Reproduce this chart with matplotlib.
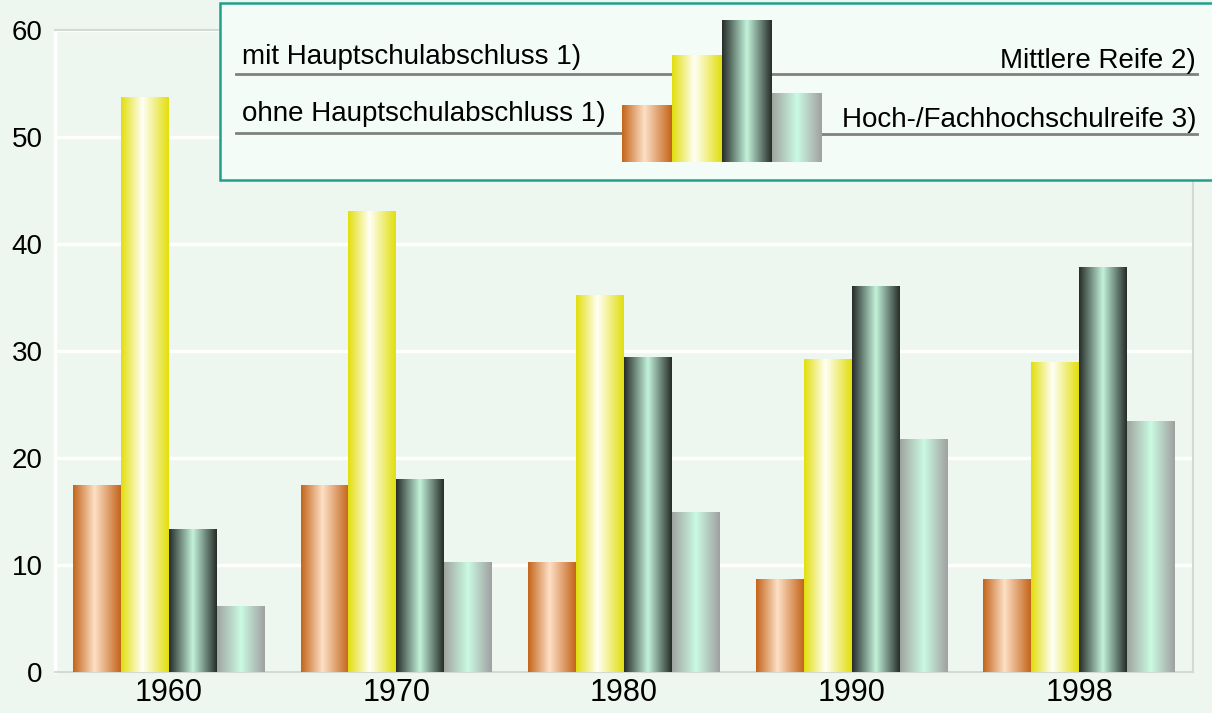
import numpy as np
import matplotlib
matplotlib.use("Agg")
import matplotlib.pyplot as plt
from matplotlib.colors import LinearSegmentedColormap
from matplotlib.patches import Rectangle

# ---------------- data ----------------
years = ["1960", "1970", "1980", "1990", "1998"]
ohne_hs = [17.4, 17.4, 10.2, 8.6, 8.6]
mit_hs = [53.7, 43.0, 35.2, 29.2, 28.9]
mittlere_reife = [13.3, 18.0, 29.4, 36.0, 37.8]
hochschulreife = [6.1, 10.2, 14.9, 21.7, 23.4]

series_labels = ["ohne Hauptschulabschluss 1)", "mit Hauptschulabschluss 1)",
                 "Mittlere Reife 2)", "Hoch-/Fachhochschulreife 3)"]
legend_glyph_rel = [0.40, 0.75, 1.0, 0.48]
yticks = [0, 10, 20, 30, 40, 50, 60]

# ---------------- style ----------------
plt.rcParams['font.family'] = ['Liberation Sans', 'DejaVu Sans']
BG = "#EEF7EF"
gradients = [
    [(0.0, "#C4641A"), (0.45, "#FDE0C6"), (1.0, "#C4641A")],
    [(0.0, "#E2DE0C"), (0.45, "#FFFFF6"), (1.0, "#E2DE0C")],
    [(0.0, "#262C29"), (0.5, "#C2F2DA"), (1.0, "#262C29")],
    [(0.0, "#A0A4A0"), (0.5, "#CAFAE2"), (1.0, "#A0A0A0")],
]
cmaps = [LinearSegmentedColormap.from_list(f"g{i}", g) for i, g in enumerate(gradients)]
grad = np.linspace(0, 1, 256).reshape(1, -1)

W, H = 1212, 713
fig = plt.figure(figsize=(W / 100, H / 100), dpi=100, facecolor=BG)
ax = fig.add_axes([55 / W, (H - 672) / H, (1193 - 55) / W, (672 - 30) / H])
ax.set_facecolor(BG)

series = [ohne_hs, mit_hs, mittlere_reife, hochschulreife]
bw = 0.2105
x = np.arange(len(years))


def gradient_bar(a, x0, x1, y0, y1, cmap, z=3):
    a.imshow(grad, extent=[x0, x1, y0, y1], aspect='auto', cmap=cmap,
             interpolation='bilinear', zorder=z, origin='lower')


for si, vals in enumerate(series):
    for xi, v in zip(x, vals):
        left = xi + (si - 2) * bw
        gradient_bar(ax, left, left + bw, 0, v, cmaps[si])

ax.set_xlim(-0.5, len(years) - 0.5)
ax.set_ylim(0, 60)
ax.set_yticks(yticks)
ax.set_yticklabels([str(t) for t in yticks], fontsize=20)
ax.set_xticks(x)
ax.set_xticklabels(years, fontsize=22)
ax.tick_params(length=0)
ax.tick_params(axis='y', pad=9)
ax.tick_params(axis='x', pad=4)
ax.yaxis.grid(True, color="white", lw=2.5, zorder=0)
ax.set_axisbelow(True)
for s in ["top", "right", "bottom"]:
    ax.spines[s].set_color("#D4D9D4")
    ax.spines[s].set_linewidth(1.5)
ax.spines["left"].set_color("white")
ax.spines["left"].set_linewidth(2.5)

# ---------------- legend (custom, in pixel coordinates) ----------------
lax = fig.add_axes([0, 0, 1, 1], zorder=5)
lax.set_xlim(0, W)
lax.set_ylim(H, 0)
lax.axis("off")
lax.patch.set_alpha(0)
lax.add_patch(Rectangle((220, 3), 1010, 177, facecolor="#F4FCF8",
                        edgecolor="#1FA08A", lw=1.8, zorder=1))

base, maxh = 162, 142
gx = [622, 672, 722, 772]
for i in range(4):
    h = legend_glyph_rel[i] * maxh
    gradient_bar(lax, gx[i], gx[i] + 50, base, base - h, cmaps[i], z=3)

lc = "#808080"
fs = 20
lax.plot([236, 672], [74, 74], color=lc, lw=2, zorder=2)
lax.text(242, 64, series_labels[1], fontsize=fs, va="baseline", ha="left", zorder=4)
lax.plot([236, 622], [133, 133], color=lc, lw=2, zorder=2)
lax.text(242, 121, series_labels[0], fontsize=fs, va="baseline", ha="left", zorder=4)
lax.plot([768, 1197], [74, 74], color=lc, lw=2, zorder=2)
lax.text(1196, 68, series_labels[2], fontsize=fs, va="baseline", ha="right", zorder=4)
lax.plot([822, 1197], [134, 134], color=lc, lw=2, zorder=2)
lax.text(1196, 127, series_labels[3], fontsize=fs, va="baseline", ha="right", zorder=4)
lax.set_xlim(0, W)
lax.set_ylim(H, 0)

fig.savefig("out.png", dpi=100, facecolor=BG)
